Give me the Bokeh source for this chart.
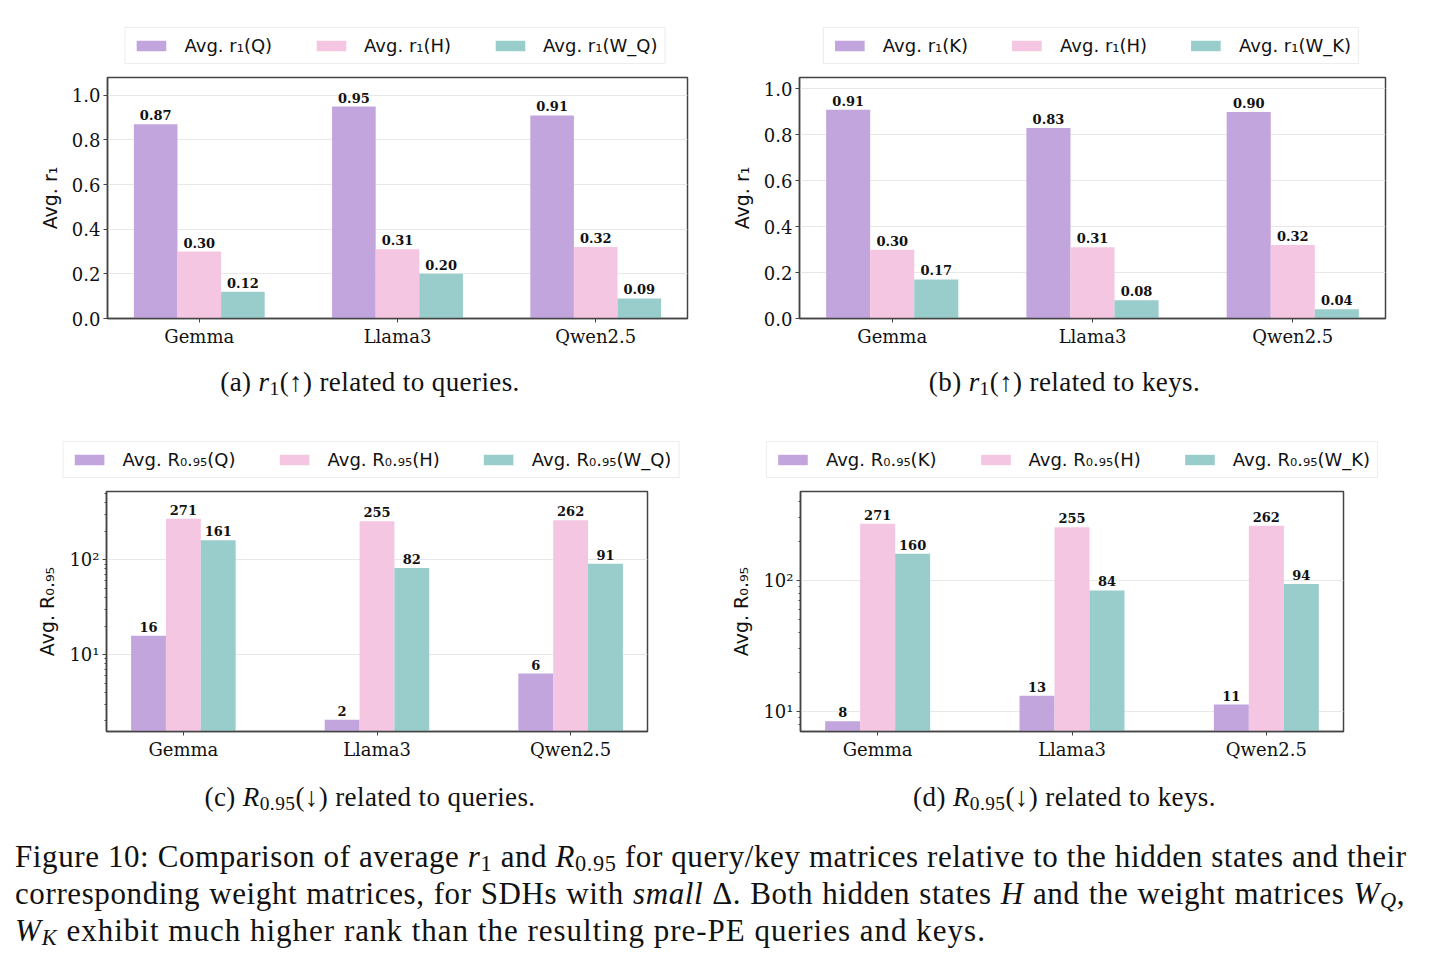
from bokeh.plotting import figure
from bokeh.layouts import column, row
from bokeh.models import (Div, Legend, LegendItem, ColumnDataSource, Range1d,
                          FixedTicker, NumeralTickFormatter)
from bokeh.core.properties import value
from bokeh.embed import file_html
from bokeh.resources import INLINE

# ---------------- data ----------------
models = ["Gemma", "Llama3", "Qwen2.5"]

a_Q = [0.87, 0.95, 0.91]
a_H = [0.30, 0.31, 0.32]
a_WQ = [0.12, 0.20, 0.09]

b_K = [0.91, 0.83, 0.90]
b_H = [0.30, 0.31, 0.32]
b_WK = [0.17, 0.08, 0.04]

c_Q = [15.8, 2.05, 6.3]
c_H = [271, 255, 262]
c_WQ = [161, 82, 91]

d_K = [8.4, 13.2, 11.3]
d_H = [271, 255, 262]
d_WK = [160, 84, 94]

legend_a = ["Avg. r₁(Q)", "Avg. r₁(H)", "Avg. r₁(W_Q)"]
legend_b = ["Avg. r₁(K)", "Avg. r₁(H)", "Avg. r₁(W_K)"]
legend_c = ["Avg. R₀.₉₅(Q)", "Avg. R₀.₉₅(H)", "Avg. R₀.₉₅(W_Q)"]
legend_d = ["Avg. R₀.₉₅(K)", "Avg. R₀.₉₅(H)", "Avg. R₀.₉₅(W_K)"]

colors = ["#C3A5DE", "#F5C6E2", "#98CDCB"]

SERIF = "DejaVu Serif"
SANS = "DejaVu Sans"
FRAME = "#444444"


def make_panel(series, ylabel, log, yrange, bw, xrange_, fw, fh,
               bl, br, bt, bb, fmt):
    kw = dict(output_backend="svg", toolbar_location=None,
              frame_width=fw, frame_height=fh,
              min_border_left=bl, min_border_right=br,
              min_border_top=bt, min_border_bottom=bb,
              x_range=Range1d(*xrange_), y_range=Range1d(*yrange),
              background_fill_color="white", border_fill_color="white")
    if log:
        kw["y_axis_type"] = "log"
    p = figure(**kw)
    offsets = [-bw, 0.0, bw]
    base = yrange[0] * 0.5 if log else 0.0
    for k, (vals, col) in enumerate(zip(series, colors)):
        xs = [i + offsets[k] for i in range(len(models))]
        src = ColumnDataSource(dict(x=xs, top=vals, bottom=[base] * len(vals),
                                    txt=[fmt(v) for v in vals]))
        p.vbar(x="x", top="top", bottom="bottom", width=bw, source=src,
               fill_color=col, line_color=None)
        p.text(x="x", y="top", text="txt", source=src,
               text_font=value(SERIF), text_font_style="bold",
               text_font_size="13px", text_align="center",
               text_baseline="bottom", y_offset=-4, text_color="#111111")

    p.outline_line_color = FRAME
    p.outline_line_width = 1.5
    p.xgrid.grid_line_color = None
    p.ygrid.grid_line_color = "#e8e8e8"
    p.ygrid.grid_line_width = 1

    xa = p.xaxis[0]
    xa.ticker = FixedTicker(ticks=[0, 1, 2])
    xa.major_label_overrides = {0: models[0], 1: models[1], 2: models[2]}
    xa.major_label_text_font = SERIF
    xa.major_label_text_font_size = "18px"
    xa.major_label_text_color = "#111111"
    xa.axis_line_color = FRAME
    xa.axis_line_width = 1.5
    xa.major_tick_line_color = FRAME
    xa.major_tick_out = 4
    xa.major_tick_in = 0
    xa.minor_tick_line_color = None
    xa.major_label_standoff = 3

    ya = p.yaxis[0]
    ya.axis_label = ylabel
    ya.axis_label_text_font = SANS
    ya.axis_label_text_font_size = "19px"
    ya.axis_label_text_font_style = "normal"
    ya.axis_label_text_color = "#111111"
    ya.axis_label_standoff = 8
    ya.major_label_text_font = SERIF
    ya.major_label_text_font_size = "18px"
    ya.major_label_text_color = "#111111"
    ya.axis_line_color = FRAME
    ya.axis_line_width = 1.5
    ya.major_tick_line_color = FRAME
    ya.major_tick_out = 4
    ya.major_tick_in = 0
    ya.major_label_standoff = 3
    if log:
        ya.ticker = FixedTicker(ticks=[10, 100],
                                minor_ticks=[2, 3, 4, 5, 6, 7, 8, 9,
                                             20, 30, 40, 50, 60, 70, 80, 90,
                                             200, 300, 400, 500])
        ya.major_label_overrides = {10: "10¹", 100: "10²"}
        ya.minor_tick_line_color = FRAME
        ya.minor_tick_out = 2
        ya.minor_tick_in = 0
    else:
        ya.ticker = FixedTicker(ticks=[0, 0.2, 0.4, 0.6, 0.8, 1.0])
        ya.formatter = NumeralTickFormatter(format="0.0")
        ya.minor_tick_line_color = None
    return p


def make_legend(series, labels, total_w, height, left, right):
    """A strip above a panel that holds only its legend (centred on the panel).
    The series' renderers here have zero width and lie outside the strip's
    ranges, so only their legend entries are visible."""
    p = figure(output_backend="svg", toolbar_location=None,
               frame_width=total_w - left - right, frame_height=height,
               min_border_left=left, min_border_right=right,
               min_border_top=0, min_border_bottom=0,
               x_axis_location=None, y_axis_location=None,
               x_range=Range1d(10000, 10001), y_range=Range1d(10000, 10001),
               background_fill_color="white", border_fill_color="white")
    p.outline_line_color = None
    p.grid.visible = False
    items = []
    for vals, lab, col in zip(series, labels, colors):
        r = p.vbar(x=list(range(len(vals))), top=vals, bottom=0, width=0.0,
                   fill_color=col, line_color=None)
        items.append(LegendItem(label=lab, renderers=[r]))
    leg = Legend(items=items, orientation="horizontal", location="bottom_center",
                 label_text_font=SANS, label_text_font_size="18px",
                 label_text_color="#111111",
                 glyph_width=37, glyph_height=13, label_standoff=15,
                 spacing=40, padding=7, label_height=18, margin=6,
                 border_line_color="#dcdcdc", border_line_width=1,
                 background_fill_color="white", background_fill_alpha=1.0)
    p.add_layout(leg, "center")
    return p


f2 = lambda v: "%.2f" % v
f0 = lambda v: "%d" % round(v)

la = make_legend([a_Q, a_H, a_WQ], legend_a, 740, 70, 50, 0)
lb = make_legend([b_K, b_H, b_WK], legend_b, 695, 70, 7, 0)
pa = make_panel([a_Q, a_H, a_WQ], "Avg. r₁", False, (0, 1.08), 0.22,
                (-0.463, 2.463), 580, 241, 107, 40, 7, 47, f2)
pb = make_panel([b_K, b_H, b_WK], "Avg. r₁", False, (0, 1.05), 0.22,
                (-0.463, 2.463), 586, 241, 70, 52, 7, 47, f2)

lc = make_legend([c_Q, c_H, c_WQ], legend_c, 740, 54, 2, 0)
ld = make_legend([d_K, d_H, d_WK], legend_d, 695, 54, 0, 31)
pc = make_panel([c_Q, c_H, c_WQ], "Avg. R₀.₉₅", True, (1.54, 526), 0.18,
                (-0.397, 2.397), 541, 240, 106, 73, 7, 47, f0)
pd = make_panel([d_K, d_H, d_WK], "Avg. R₀.₉₅", True, (7.03, 478), 0.18,
                (-0.397, 2.397), 543, 240, 80, 92, 7, 47, f0)

CAP = "font-family:'Liberation Serif',serif;color:#111;"
SUB = '<sub style="line-height:0;font-size:0.72em;vertical-align:-0.2em;">%s</sub>'


def subcap(html, w, h, pad_top, pad_right=0):
    return Div(text=('<div style="%s font-size:27px;line-height:30px;letter-spacing:0.4px;'
                     'text-align:center;width:%dpx;padding-top:%dpx;white-space:nowrap;">%s</div>'
                     % (CAP, w - pad_right, pad_top, html)),
               width=w, height=h, margin=0)


ca = subcap("(a) <i>r</i>" + SUB % "1" + "(↑) related to queries.", 740, 65, 2)
cb = subcap("(b) <i>r</i>" + SUB % "1" + "(↑) related to keys.", 695, 65, 2, 46)
cc = subcap("(c) <i>R</i>" + SUB % "0.95" + "(↓) related to queries.", 740, 42, 4)
cd = subcap("(d) <i>R</i>" + SUB % "0.95" + "(↓) related to keys.", 695, 42, 4, 46)

LS = "font-size:31px;line-height:37px;white-space:nowrap;"
J = "text-align:justify;text-align-last:justify;"
cap_html = (
    '<div style="%s padding-left:15px;width:1405px;padding-top:18px;">' % CAP
    + '<div style="%s%sletter-spacing:0.6px;">Figure 10: Comparison of average <i>r</i>%s and <i>R</i>%s '
      'for query/key matrices relative to the hidden states and their</div>'
      % (LS, J, SUB % "1", SUB % "0.95")
    + '<div style="%s%sletter-spacing:0.6px;">corresponding weight matrices, for SDHs with <i>small</i> Δ. '
      'Both hidden states <i>H</i> and the weight matrices <i>W</i>%s,</div>'
      % (LS, J, SUB % "<i>Q</i>")
    + '<div style="%sletter-spacing:1.0px;"><i>W</i>%s exhibit much higher rank than the resulting '
      'pre-PE queries and keys.</div>' % (LS, SUB % "<i>K</i>")
    + '</div>'
)
cap = Div(text=cap_html, width=1435, height=140, margin=0)

layout = column(row(la, lb), row(pa, pb), row(ca, cb),
                row(lc, ld), row(pc, pd), row(cc, cd), cap)

open("out.html", "w").write(file_html(layout, INLINE))
